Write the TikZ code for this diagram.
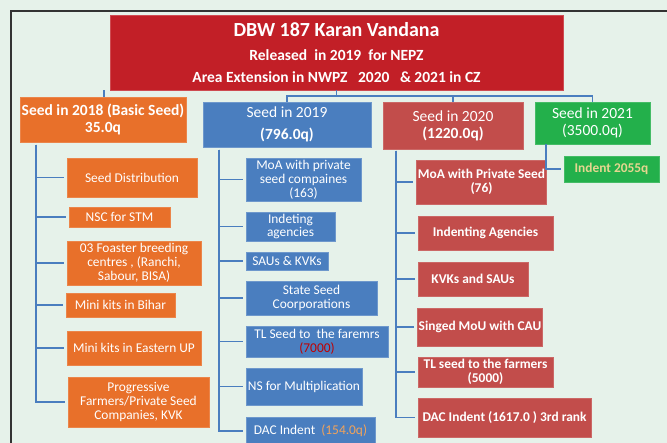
\documentclass[tikz,border=0pt]{standalone}
\usepackage{fontspec}
\setmainfont{Carlito}
\definecolor{bgC}{HTML}{E6F2EA}
\definecolor{titleC}{HTML}{C21F27}
\definecolor{orgC}{HTML}{E8702A}
\definecolor{bluC}{HTML}{4A7EBF}
\definecolor{redC}{HTML}{C24D4B}
\definecolor{grnC}{HTML}{23B04B}
\definecolor{lineC}{HTML}{4A7EBF}
\definecolor{khakiC}{HTML}{E6D690}
\definecolor{dredC}{HTML}{C00000}
\definecolor{lorgC}{HTML}{F2A35A}
\newcommand\fsA{\fontsize{20}{22}\selectfont}
\newcommand\fsB{\fontsize{15.5}{22}\selectfont}
\newcommand\fsH{\fontsize{15.5}{17}\selectfont}
\newcommand\fsC{\fontsize{13.4}{13.8}\selectfont}
\tikzset{
  bx/.style={text=white, align=center, inner sep=1pt, line width=0.8pt},
  obox/.style={bx, fill=orgC, draw=orgC!85!white, font=\fsC},
  bbox/.style={bx, fill=bluC, draw=bluC!80!white, font=\fsC},
  rbox/.style={bx, fill=redC, draw=redC!85!white, font=\fsC\bfseries},
  gbox/.style={bx, fill=grnC, draw=grnC!85!white},
  conn/.style={draw=lineC, line width=1.3pt},
}
\newcommand\bx[7]{\node[#1, minimum width=#4pt, minimum height=#5pt] (#6) at (#2,#3) {#7};}
\begin{document}
\begin{tikzpicture}[x=1pt,y=-1pt]
\useasboundingbox (0,0) rectangle (667,443);
\fill[bgC] (0,0) rectangle (667,443);
\draw[black!80, line width=1.3pt] (11,443) -- (11,11) -- (667,11);
% title
\bx{bx, fill=titleC, draw=titleC!80!white, font=\fsB\bfseries}{336.5}{52.5}{453}{75}{title}{{\fsA DBW 187 Karan Vandana}\\[2pt]Released\ \ in 2019\ \ for NEPZ\\Area Extension in NWPZ\ \ \ 2020\ \ \ \& 2021 in CZ}
% headers
\bx{obox, font=\fsH\bfseries}{103}{119.5}{166}{45}{oh}{Seed in 2018 (Basic Seed)\\35.0q}
\bx{bbox, font=\fsH}{287}{124.5}{168}{45}{bh}{Seed in 2019\\[5pt]\textbf{(796.0q)}}
\bx{rbox, font=\fsH}{453}{125.5}{140}{47}{rh}{Seed in 2020\\\textbf{(1220.0q)}}
\bx{gbox, font=\fsH}{592.5}{123}{115}{42}{gh}{Seed in 2021\\(3500.0q)}
\bx{gbox, font=\fsC\bfseries, text=khakiC}{611.5}{169}{95}{26}{ind}{Indent 2055q}
% orange children
\bx{obox}{132}{177.5}{130}{39}{o1}{Seed Distribution}
\bx{obox}{119.5}{217}{101}{20}{o2}{NSC for STM}
\bx{obox}{134}{263}{134}{44}{o3}{03 Foaster breeding\\centres , (Ranchi,\\Sabour, BISA)}
\bx{obox}{120.5}{305}{109}{24}{o4}{Mini kits in Bihar}
\bx{obox}{134}{348}{134}{34}{o5}{Mini kits in Eastern UP}
\bx{obox}{138.5}{402}{141}{50}{o6}{Progressive\\Farmers/Private Seed\\Companies, KVK}
% blue children
\bx{bbox}{303.5}{179.5}{115}{43}{b1}{MoA with private\\seed compaines\\(163)}
\bx{bbox}{290.5}{226.5}{89}{29}{b2}{Indeting\\agencies}
\bx{bbox}{287}{261}{82}{18}{b3}{SAUs \& KVKs}
\bx{bbox}{311.5}{298}{131}{34}{b4}{State Seed\\Coorporations}
\bx{bbox}{317}{341.5}{142}{31}{b5}{TL Seed to\ \ the faremrs\\\textcolor{dredC}{(7000)}}
\bx{bbox}{304}{386.5}{116}{37}{b6}{NS for Multiplication}
\bx{bbox}{310.5}{431}{129}{28}{b7}{DAC Indent\ \ \textcolor{lorgC}{(154.0q)}}
% red children
\bx{rbox}{481.5}{182}{127}{44}{r1}{MoA with Private Seed\\(76)}
\bx{rbox}{485.5}{233}{135}{34}{r2}{Indenting Agencies}
\bx{rbox}{473}{279}{110}{34}{r3}{KVKs and SAUs}
\bx{rbox}{480}{327}{124}{38}{r4}{Singed MoU with CAU}
\bx{rbox}{485.5}{372}{135}{30}{r5}{TL seed to the farmers\\(5000)}
\bx{rbox}{504.5}{417.5}{173}{39}{r6}{DAC Indent (1617.0 ) 3rd rank}
% coordinates
\coordinate (bus) at (0,96);
\coordinate (ox) at (104,0);
\coordinate (ot) at (36,145);
\coordinate (bt) at (219,150);
\coordinate (rt) at (396,151);
\coordinate (gx) at (546,0);
% top connectors
\draw[conn] (title.south) -- (title.south |- bus);
\draw[conn] (bh.north) |- (gh.north |- bus) -- (gh.north);
\draw[conn] (rh.north |- bus) -- (rh.north);
\draw[conn] (title.south -| ox) -- (oh.north -| ox);
% trunks
\foreach \n in {o1,o2,o3,o4,o5,o6} \draw[conn, shorten >=3pt] (ot) |- (\n.west);
\foreach \n in {b1,b2,b3,b4,b5,b6,b7} \draw[conn, shorten >=3pt] (bt) |- (\n.west);
\foreach \n in {r1,r2,r3,r4,r5,r6} \draw[conn, shorten >=3pt] (rt) |- (\n.west);
\draw[conn, shorten >=3pt] (gh.south -| gx) |- (ind.west);
\end{tikzpicture}
\end{document}
